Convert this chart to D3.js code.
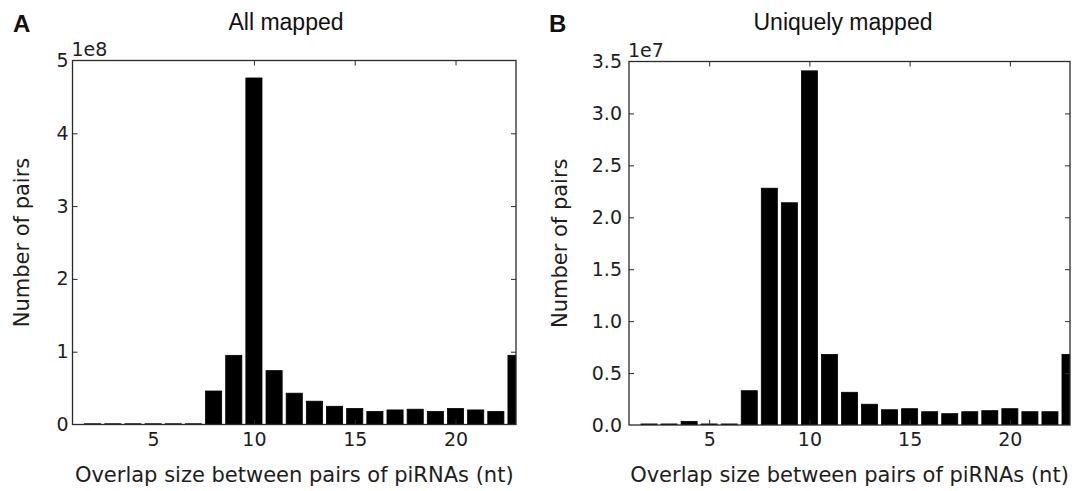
<!DOCTYPE html>
<html>
<head>
<meta charset="utf-8">
<script src="https://cdn.jsdelivr.net/npm/d3@7"></script>
<style>
  body { margin: 0; background: #fff; }
  svg { display: block; }
  .tick-label { font-family: "DejaVu Sans", sans-serif; font-size: 19px; fill: #1e1e1e; }
  .axis-label { font-family: "DejaVu Sans", sans-serif; font-size: 21px; fill: #1e1e1e; }
  .title { font-family: "Liberation Sans", Arial, sans-serif; font-size: 23px; fill: #111; }
  .panel-letter { font-family: "Liberation Sans", Arial, sans-serif; font-size: 24px; font-weight: bold; fill: #111; }
</style>
</head>
<body>
<div id="chart"></div>
<script>
// overlap size (nt) of each bar
const overlapSizes = [2, 3, 4, 5, 6, 7, 8, 9, 10, 11, 12, 13, 14, 15, 16, 17, 18, 19, 20, 21, 22, 23];

// number of pairs, all mapped reads
const allMapped = [
  1.0e6, 1.0e6, 1.0e6, 1.0e6, 1.0e6, 1.0e6, 0.46e8, 0.95e8, 4.76e8, 0.74e8, 0.43e8,
  0.32e8, 0.25e8, 0.22e8, 0.18e8, 0.20e8, 0.21e8, 0.18e8, 0.22e8, 0.20e8, 0.18e8, 0.95e8
];

// number of pairs, uniquely mapped reads
const uniquelyMapped = [
  1.0e5, 1.0e5, 3.5e5, 1.0e5, 1.0e5, 3.3e6, 2.28e7, 2.14e7, 3.41e7, 6.8e6, 3.15e6,
  2.0e6, 1.47e6, 1.57e6, 1.28e6, 1.09e6, 1.28e6, 1.38e6, 1.57e6, 1.28e6, 1.28e6, 6.8e6
];

const xTicks = [5, 10, 15, 20];
const yTicksA = [0, 1, 2, 3, 4, 5];
const yTicksB = [0, 0.5, 1.0, 1.5, 2.0, 2.5, 3.0, 3.5];

const svg = d3.select("#chart").append("svg")
  .attr("width", 1074)
  .attr("height", 491);

function drawPanel(opts) {
  const { id, left, right, top, bottom, values, exponent, yTicks, yFormat, yPad, title, titleX, letter, letterX, yLabelX } = opts;
  const scale = Math.pow(10, exponent);

  const x = d3.scaleLinear().domain([1, 23]).range([left, right]);
  const y = d3.scaleLinear().domain([0, yTicks[yTicks.length - 1]]).range([bottom, top]);

  const g = svg.append("g");

  g.append("clipPath").attr("id", "clip-" + id)
    .append("rect")
    .attr("x", left).attr("y", top)
    .attr("width", right - left).attr("height", bottom - top);

  g.append("g")
    .attr("clip-path", `url(#clip-${id})`)
    .selectAll("rect")
    .data(overlapSizes)
    .join("rect")
    .attr("x", (d) => x(d - 0.4))
    .attr("width", (d) => x(d + 0.4) - x(d - 0.4))
    .attr("y", (d, i) => y(values[i] / scale))
    .attr("height", (d, i) => bottom - y(values[i] / scale))
    .attr("fill", "#000")
    .attr("stroke", "#000")
    .attr("stroke-width", 0.8);

  // frame with inward ticks on all four sides
  const frameColor = "#2a2a2a";
  const tickLen = 5;

  const bottomAxis = d3.axisBottom(x).tickValues(xTicks).tickSize(-tickLen).tickPadding(8).tickFormat(d3.format("d"));
  const topAxis = d3.axisTop(x).tickValues(xTicks).tickSize(-tickLen).tickFormat("");
  const leftAxis = d3.axisLeft(y).tickValues(yTicks).tickSize(-tickLen).tickPadding(yPad).tickFormat(yFormat);
  const rightAxis = d3.axisRight(y).tickValues(yTicks).tickSize(-tickLen).tickFormat("");

  const axes = [
    g.append("g").attr("transform", `translate(0,${bottom})`).call(bottomAxis),
    g.append("g").attr("transform", `translate(0,${top})`).call(topAxis),
    g.append("g").attr("transform", `translate(${left},0)`).call(leftAxis),
    g.append("g").attr("transform", `translate(${right},0)`).call(rightAxis),
  ];
  axes.forEach((a) => {
    a.select(".domain").remove();
    a.selectAll(".tick line").attr("stroke", frameColor).attr("stroke-width", 1);
    a.selectAll(".tick text").attr("class", "tick-label");
    a.attr("font-family", null).attr("font-size", null);
  });
  // drop the tick marks that sit on the frame corners
  axes.forEach((a) => {
    a.selectAll(".tick line").filter((d) => d === yTicks[0] || d === yTicks[yTicks.length - 1]).remove();
  });

  g.append("rect")
    .attr("x", left).attr("y", top)
    .attr("width", right - left).attr("height", bottom - top)
    .attr("fill", "none")
    .attr("stroke", frameColor)
    .attr("stroke-width", 1.3);

  // offset text above axes
  g.append("text")
    .attr("class", "tick-label")
    .attr("x", left - 1)
    .attr("y", top - 5)
    .text("1e" + exponent);

  g.append("text")
    .attr("class", "axis-label")
    .attr("text-anchor", "middle")
    .attr("x", (left + right) / 2)
    .attr("y", 482)
    .text("Overlap size between pairs of piRNAs (nt)");

  g.append("text")
    .attr("class", "axis-label")
    .attr("text-anchor", "middle")
    .attr("dominant-baseline", "central")
    .attr("transform", `translate(${yLabelX},${(top + bottom) / 2}) rotate(-90)`)
    .text("Number of pairs");

  g.append("text")
    .attr("class", "title")
    .attr("text-anchor", "middle")
    .attr("x", titleX)
    .attr("y", 30)
    .text(title);

  g.append("text")
    .attr("class", "panel-letter")
    .attr("x", letterX)
    .attr("y", 32)
    .text(letter);
}

drawPanel({
  id: "a",
  left: 72.5, right: 516, top: 60.5, bottom: 424.5,
  values: allMapped, exponent: 8,
  yTicks: yTicksA, yFormat: d3.format("d"), yPad: 4,
  title: "All mapped", titleX: 286,
  letter: "A", letterX: 13,
  yLabelX: 22,
});

drawPanel({
  id: "b",
  left: 629, right: 1070, top: 61.5, bottom: 425,
  values: uniquelyMapped, exponent: 7,
  yTicks: yTicksB, yFormat: d3.format(".1f"), yPad: 7,
  title: "Uniquely mapped", titleX: 843,
  letter: "B", letterX: 549,
  yLabelX: 560,
});
</script>
</body>
</html>
